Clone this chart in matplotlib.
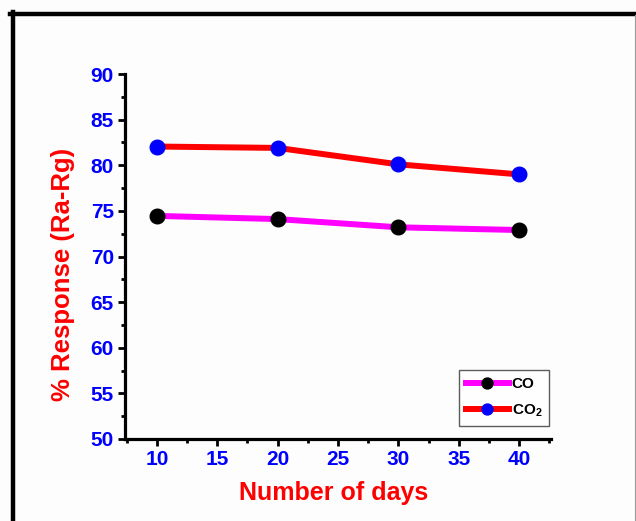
import matplotlib
matplotlib.use("Agg")
import matplotlib.pyplot as plt
from matplotlib.lines import Line2D
from matplotlib.ticker import MultipleLocator

plt.rcParams['font.family'] = ['Liberation Sans', 'DejaVu Sans']
plt.rcParams['font.weight'] = 'bold'
plt.rcParams['mathtext.fontset'] = 'custom'
plt.rcParams['mathtext.rm'] = 'Liberation Sans:bold'
plt.rcParams['mathtext.bf'] = 'Liberation Sans:bold'
plt.rcParams['mathtext.default'] = 'bf'

days = [10, 20, 30, 40]
co = [74.45, 74.1, 73.2, 72.9]
co2 = [82.05, 81.9, 80.1, 79.0]
series_labels = ['CO', 'CO$_2$']
x_label = 'Number of days'
y_label = '% Response (Ra-Rg)'

fig = plt.figure(figsize=(6.36, 5.21), dpi=100)
fig.patch.set_facecolor('#fdfdfd')
ax = fig.add_axes([125/636, 1-439/521, (551-125)/636, (439-74)/521])
ax.set_facecolor('#fdfdfd')

ax.plot(days, co, color='#ff00ff', lw=4.3, marker='o', ms=10.5,
        mfc='black', mec='black', label=series_labels[0], zorder=3)
ax.plot(days, co2, color='#ff0000', lw=4.3, marker='o', ms=10.5,
        mfc='#0000ff', mec='#0000ff', label=series_labels[1], zorder=3)

ax.set_xlim(7.35, 42.65)
ax.set_ylim(50, 90)
ax.xaxis.set_major_locator(MultipleLocator(5))
ax.xaxis.set_minor_locator(MultipleLocator(2.5))
ax.yaxis.set_major_locator(MultipleLocator(5))
ax.yaxis.set_minor_locator(MultipleLocator(2.5))
for s in ['top', 'right']:
    ax.spines[s].set_visible(False)
for s in ['left', 'bottom']:
    ax.spines[s].set_linewidth(2.3)
ax.tick_params(which='major', direction='out', length=5, width=2, labelsize=15,
               labelcolor='#0000ff', pad=3)
ax.tick_params(which='minor', direction='out', length=3, width=2)
for lab in ax.get_xticklabels() + ax.get_yticklabels():
    lab.set_fontweight('bold')

fig.text(334/636, 1-500/521, x_label, color='#ff0000', fontsize=18,
         fontweight='bold', ha='center', va='baseline')
fig.text(63/636, 1-274/521, y_label, color='#ff0000', fontsize=18.5,
         fontweight='bold', ha='center', va='center', rotation=90)

leg = ax.legend(loc='lower right', bbox_to_anchor=(549/636, 1-426/521),
                bbox_transform=fig.transFigure, frameon=True, fancybox=False,
                edgecolor='#333333', fontsize=11, handlelength=2.8, numpoints=1,
                markerscale=0.75, borderpad=0.45, labelspacing=0.75,
                handletextpad=0.2, borderaxespad=0)
leg.get_frame().set_linewidth(1.0)
for t in leg.get_texts():
    t.set_fontweight('bold')

fig.add_artist(Line2D([10/636, 1], [1-13.5/521, 1-13.5/521], color='black', lw=3.2,
                      transform=fig.transFigure))
fig.add_artist(Line2D([12.5/636, 12.5/636], [0, 1-12/521], color='black', lw=3.2,
                      transform=fig.transFigure))
fig.add_artist(Line2D([634.5/636, 634.5/636], [0, 1-15/521], color='#999999', lw=0.8,
                      transform=fig.transFigure))

fig.savefig('out.png', dpi=100, facecolor=fig.get_facecolor())
